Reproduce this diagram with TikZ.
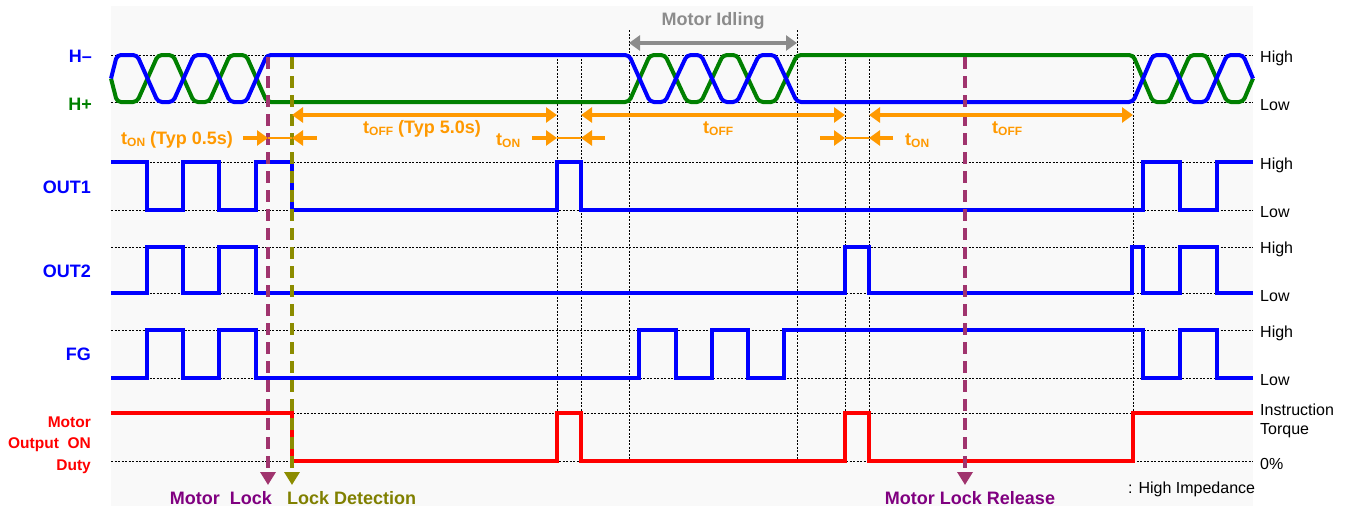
\documentclass[tikz,border=0pt]{standalone}
\usepackage{fontspec}
\setmainfont{Liberation Sans}
\usetikzlibrary{arrows.meta}
\definecolor{sigblue}{RGB}{0,0,255}
\definecolor{siggreen}{RGB}{0,128,0}
\definecolor{sigred}{RGB}{255,0,0}
\definecolor{tmorange}{RGB}{255,153,0}
\definecolor{idlegray}{RGB}{140,140,140}
\definecolor{lockpurple}{RGB}{160,52,110}
\definecolor{locktext}{RGB}{128,0,128}
\definecolor{detolive}{RGB}{140,140,0}
\definecolor{dettext}{RGB}{128,128,0}
\definecolor{bggray}{RGB}{249,249,249}
\newcommand{\tsub}[1]{t\raisebox{-2.5pt}{\fontsize{12}{12}\selectfont #1}}
\begin{document}
\begin{tikzpicture}[x=1pt,y=-1pt,
  grid/.style={black, line width=0.8pt, dash pattern=on 2pt off 1.5pt},
  sig/.style={line width=4pt, line join=miter},
  hsig/.style={line width=4pt, rounded corners=4pt},
  toff/.style={tmorange, line width=4.5pt, {Triangle[length=11pt,width=15pt]}-{Triangle[length=11pt,width=15pt]}},
  tonarr/.style={tmorange, line width=4.5pt, -{Triangle[length=11pt,width=15pt]}},
  tonthin/.style={tmorange, line width=1.6pt},
  idlearr/.style={idlegray, line width=4.5pt, {Triangle[length=11pt,width=15pt]}-{Triangle[length=11pt,width=15pt]}},
  lockarr/.style={line width=3.5pt, dash pattern=on 12pt off 7pt, -{Triangle[length=13pt,width=15pt]}},
  blbl/.style={font=\fontsize{18}{20}\selectfont\bfseries, inner sep=0pt},
  olbl/.style={font=\fontsize{18}{20}\selectfont\bfseries, inner sep=0pt, text=tmorange, anchor=base west},
  rlbl/.style={font=\fontsize{16}{18}\selectfont, inner sep=0pt, anchor=base west},
  redlbl/.style={font=\fontsize{15.5}{17}\selectfont\bfseries, text=sigred, inner sep=0pt, anchor=base east}]
\useasboundingbox (0,0) rectangle (1354,506);
\fill[bggray] (111,6) rectangle (1253,506);

% guide lines
\foreach \yy in {55,102,162,210,247,293,330,378,413,461}
  \draw[grid] (111,\yy) -- (1253,\yy);
\foreach \xx in {557,581,845,869,1133}
  \draw[grid] (\xx,55) -- (\xx,461);
\foreach \xx in {629,797}
  \draw[grid] (\xx,30) -- (\xx,461);

% H+ (green)
\draw[hsig, siggreen] (111,78.5) -- (117,102) -- (137,102) -- (158,55) -- (173,55) -- (194,102) -- (209,102) -- (230,55) -- (246,55) -- (267,102) -- (629,102) -- (650,55) -- (665,55) -- (687,102) -- (701,102) -- (723,55) -- (737,55) -- (759,102) -- (775,102) -- (797,55) -- (1133,55) -- (1153,102) -- (1169,102) -- (1190,55) -- (1206,55) -- (1227,102) -- (1243,102) -- (1253,78.5);
% H- (blue)
\draw[hsig, sigblue] (111,78.5) -- (117,55) -- (137,55) -- (158,102) -- (173,102) -- (194,55) -- (209,55) -- (230,102) -- (246,102) -- (267,55) -- (629,55) -- (650,102) -- (665,102) -- (687,55) -- (701,55) -- (723,102) -- (737,102) -- (759,55) -- (775,55) -- (797,102) -- (1133,102) -- (1153,55) -- (1169,55) -- (1190,102) -- (1206,102) -- (1227,55) -- (1243,55) -- (1253,78.5);

% OUT1
\draw[sig, sigblue] (111,162) -| (147,210) -| (183,162) -| (219,210) -| (256,162) -| (292,210) -| (557,162) -| (581,210) -| (1143,162) -| (1180,210) -| (1217,162) -- (1253,162);
% OUT2
\draw[sig, sigblue] (111,293) -| (147,247) -| (183,293) -| (219,247) -| (256,293) -| (845,247) -| (869,293) -| (1132,247) -| (1143,293) -| (1180,247) -| (1217,293) -- (1253,293);
% FG
\draw[sig, sigblue] (111,378) -| (147,330) -| (183,378) -| (219,330) -| (256,378) -| (639,330) -| (676,378) -| (712,330) -| (748,378) -| (784,330) -| (1143,378) -| (1180,330) -| (1217,378) -- (1253,378);
% Motor output ON duty
\draw[sig, sigred] (111,413) -| (292,461) -| (557,413) -| (581,461) -| (845,413) -| (869,461) -| (1133,413) -- (1253,413);

% lock event arrows
\coordinate (mlTop) at (268,57); \coordinate (mlBot) at (268,485);
\coordinate (ldTop) at (292,57); \coordinate (ldBot) at (292,485);
\coordinate (mrTop) at (965,57); \coordinate (mrBot) at (965,485);
\draw[lockarr, lockpurple] (mlTop) -- (mlBot);
\draw[lockarr, detolive] (ldTop) -- (ldBot);
\draw[lockarr, lockpurple] (mrTop) -- (mrBot);

% timing arrows
\draw[toff] (292,115) -- (557,115);
\draw[toff] (581,115) -- (845,115);
\draw[toff] (869,115) -- (1133,115);
\draw[tonthin] (268,138) -- (292,138);
\draw[tonarr] (243,138) -- (268,138);
\draw[tonarr] (317,138) -- (292,138);
\draw[tonthin] (557,138) -- (581,138);
\draw[tonarr] (532,138) -- (557,138);
\draw[tonarr] (605,138) -- (581,138);
\draw[tonthin] (845,138) -- (869,138);
\draw[tonarr] (820,138) -- (845,138);
\draw[tonarr] (893,138) -- (869,138);
\draw[idlearr] (629,43) -- (797,43);

% timing labels
\node[olbl] (ton1) at (121,144) {\tsub{ON} (Typ 0.5s)};
\node[olbl] (toff1) at (363,133) {\tsub{OFF} (Typ 5.0s)};
\node[olbl] (ton2) at (496,145) {\tsub{ON}};
\node[olbl] (toff2) at (703,133) {\tsub{OFF}};
\node[olbl] (ton3) at (905,145) {\tsub{ON}};
\node[olbl] (toff3) at (992,133) {\tsub{OFF}};
\node[blbl, text=idlegray, anchor=base] (idle) at (713,25) {Motor Idling};

% left labels
\node[blbl, text=sigblue, anchor=base east] (hm) at (92,62) {H–};
\node[blbl, text=siggreen, anchor=base east] (hp) at (92,110) {H+};
\node[blbl, text=sigblue, anchor=base east] (o1) at (91,193) {OUT1};
\node[blbl, text=sigblue, anchor=base east] (o2) at (91,277.5) {OUT2};
\node[blbl, text=sigblue, anchor=base east] (fg) at (91,360) {FG};
\node[redlbl] (m1) at (91,427) {Motor};
\node[redlbl] (m2) at (91,448.5) {Output\ \ ON};
\node[redlbl] (m3) at (91,470) {Duty};

% right labels
\node[rlbl] (r1) at (1260,62) {High};
\node[rlbl] (r2) at (1260,110) {Low};
\node[rlbl] (r3) at (1260,169) {High};
\node[rlbl] (r4) at (1260,217) {Low};
\node[rlbl] (r5) at (1260,253) {High};
\node[rlbl] (r6) at (1260,301) {Low};
\node[rlbl] (r7) at (1260,337) {High};
\node[rlbl] (r8) at (1260,385) {Low};
\node[rlbl] (r9) at (1260,415) {Instruction};
\node[rlbl] (r10) at (1260,434) {Torque};
\node[rlbl] (r11) at (1260,469) {0\%};
\node[rlbl] (hiz) at (1128,493) {: High Impedance};

% bottom event labels
\node[blbl, text=locktext, anchor=base east] (mlk) at (272,504) {Motor\ \ Lock};
\node[blbl, text=dettext, anchor=base west] (ldt) at (287,504) {Lock Detection};
\node[blbl, text=locktext, anchor=base] (mlr) at (970,504) {Motor Lock Release};
\end{tikzpicture}
\end{document}
